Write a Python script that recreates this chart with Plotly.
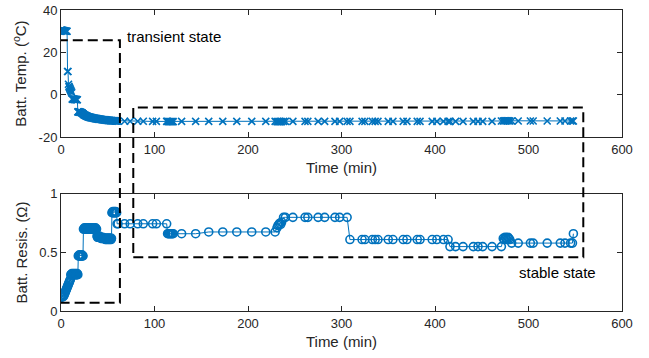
import plotly.graph_objects as go
from plotly.subplots import make_subplots

# ---- data ----
# transient part, sampled every half minute (0 .. 60 min)
early_time = [0, 0.5, 1, 1.5, 2, 2.5, 3, 3.5, 4, 4.5, 5, 5.5, 6, 6.5, 7, 7.5, 8, 8.5, 9, 9.5,
              10, 10.5, 11, 11.5, 12, 12.5, 13, 13.5, 14, 14.5, 15, 15.5, 16, 16.5, 17, 17.5, 18, 18.5, 19, 19.5,
              20, 20.5, 21, 21.5, 22, 22.5, 23, 23.5, 24, 24.5, 25, 25.5, 26, 26.5, 27, 27.5, 28, 28.5, 29, 29.5,
              30, 30.5, 31, 31.5, 32, 32.5, 33, 33.5, 34, 34.5, 35, 35.5, 36, 36.5, 37, 37.5, 38, 38.5, 39, 39.5,
              40, 40.5, 41, 41.5, 42, 42.5, 43, 43.5, 44, 44.5, 45, 45.5, 46, 46.5, 47, 47.5, 48, 48.5, 49, 49.5,
              50, 50.5, 51, 51.5, 52, 52.5, 53, 53.5, 54, 54.5, 55, 55.5, 56, 56.5, 57, 57.5, 58, 58.5, 59, 59.5,
              60]
early_temp = [30.5, 30.5, 30.4, 30.4, 30.3, 30.3, 30.2, 30.2, 30.1, 30.1, 30.0, 30.0, 30.0, 30.0, 11, 11, 5, 4, 3.5, 3,
              2.5, 2, 1.5, 1, -2, -2, -2, -2, -2.1, -2.1, -2.1, -2.2, -2.2, -2.2, -2.3, -2.3, -8, -8, -8, -8,
              -8.1, -8.1, -8.2, -8.3, -8.4, -8.5, -8.7, -8.9, -9.1, -9.3, -9.5, -9.6, -9.7, -9.8, -9.9, -10.0, -10.1, -10.2, -10.3, -10.4,
              -10.5, -10.5, -10.6, -10.6, -10.7, -10.7, -10.8, -10.8, -10.9, -10.9, -11.0, -11.0, -11.1, -11.1, -11.2, -11.2, -11.2, -11.3, -11.3, -11.3,
              -11.4, -11.4, -11.4, -11.5, -11.5, -11.5, -11.6, -11.6, -11.6, -11.7, -11.7, -11.7, -11.8, -11.8, -11.8, -11.8, -11.9, -11.9, -11.9, -11.9,
              -12.0, -12.0, -12.0, -12.0, -12.0, -12.1, -12.1, -12.1, -12.1, -12.1, -12.2, -12.2, -12.2, -12.2, -12.2, -12.2, -12.3, -12.3, -12.3, -12.3,
              -12.3]
early_resis = [0.12, 0.12, 0.12, 0.13, 0.12, 0.13, 0.13, 0.14, 0.15, 0.16, 0.17, 0.18, 0.19, 0.20, 0.21, 0.22, 0.23, 0.24, 0.25, 0.26,
               0.27, 0.31, 0.31, 0.32, 0.31, 0.31, 0.32, 0.31, 0.31, 0.32, 0.31, 0.31, 0.32, 0.31, 0.31, 0.32, 0.31, 0.47, 0.47, 0.48,
               0.47, 0.47, 0.48, 0.47, 0.47, 0.48, 0.47, 0.47, 0.70, 0.70, 0.71, 0.70, 0.70, 0.71, 0.70, 0.70, 0.71, 0.70, 0.70, 0.71,
               0.70, 0.70, 0.71, 0.70, 0.70, 0.71, 0.70, 0.70, 0.71, 0.70, 0.70, 0.71, 0.70, 0.70, 0.71, 0.70, 0.70, 0.64, 0.63, 0.64,
               0.63, 0.63, 0.64, 0.63, 0.63, 0.62, 0.63, 0.62, 0.62, 0.63, 0.62, 0.62, 0.62, 0.62, 0.62, 0.61, 0.62, 0.62, 0.61, 0.62,
               0.62, 0.61, 0.62, 0.62, 0.61, 0.62, 0.62, 0.61, 0.62, 0.84, 0.84, 0.85, 0.84, 0.84, 0.85, 0.84, 0.84, 0.85, 0.84, 0.84,
               0.745]

# stable part
late_time = [61, 68, 74, 82, 88, 98, 102, 113, 114, 115, 116, 117, 118, 119, 120,
             129, 144, 158, 173, 188, 204, 219, 229, 231, 232, 233, 234, 235, 236, 238,
             240, 248, 261, 264, 275, 282, 293, 298, 306, 309, 322, 325, 333, 336, 339,
             350, 355, 366, 370, 381, 384, 397, 402, 409, 414, 416, 422, 430, 441, 446,
             451, 461, 471, 473, 474, 475, 476, 477, 478, 479, 480, 482, 489, 502, 505,
             520, 534, 539, 545, 547, 548]
late_temp = [-12.4, -12.4, -12.4, -12.4, -12.4, -12.5, -12.5, -12.5, -12.5, -12.6, -12.6, -12.6, -12.6, -12.6, -12.6,
             -12.5, -12.5, -12.5, -12.5, -12.5, -12.5, -12.5, -12.5, -12.6, -12.6, -12.6, -12.6, -12.6, -12.6, -12.5,
             -12.5, -12.5, -12.5, -12.5, -12.5, -12.5, -12.5, -12.5, -12.5, -12.5, -12.5, -12.5, -12.5, -12.5, -12.5,
             -12.5, -12.5, -12.5, -12.5, -12.5, -12.5, -12.5, -12.5, -12.5, -12.5, -12.5, -12.5, -12.5, -12.5, -12.5,
             -12.5, -12.5, -12.3, -12.3, -12.2, -12.2, -12.2, -12.2, -12.2, -12.2, -12.3, -12.3, -12.3, -12.3, -12.3,
             -12.3, -12.3, -12.3, -12.3, -12.3, -12.3]
late_resis = [0.745, 0.745, 0.745, 0.745, 0.745, 0.745, 0.745, 0.745, 0.66, 0.66, 0.66, 0.66, 0.66, 0.66, 0.66,
              0.66, 0.66, 0.675, 0.675, 0.675, 0.675, 0.675, 0.675, 0.71, 0.73, 0.74, 0.75, 0.74, 0.76, 0.80,
              0.80, 0.80, 0.80, 0.80, 0.80, 0.80, 0.80, 0.80, 0.80, 0.61, 0.61, 0.61, 0.61, 0.61, 0.61,
              0.61, 0.61, 0.61, 0.61, 0.61, 0.61, 0.61, 0.61, 0.61, 0.61, 0.55, 0.55, 0.55, 0.55, 0.55,
              0.55, 0.55, 0.55, 0.62, 0.61, 0.63, 0.62, 0.61, 0.63, 0.62, 0.61, 0.58, 0.58, 0.58, 0.58,
              0.58, 0.58, 0.58, 0.58, 0.58, 0.66]

x_ticks = [0, 100, 200, 300, 400, 500, 600]
temp_ticks = [-20, 0, 20, 40]
resis_ticks = [0, 0.5, 1]
resis_tick_text = ["0", "0.5", "1"]

# dashed regions: (t0, t1, temp_top, resis_bottom)
transient_box = (-1.5, 63, 25.8, 0.071)
stable_box = (77.3, 558.6, -6.0, 0.46)

time_min = early_time + late_time
temp_c = early_temp + late_temp
resis_ohm = early_resis + late_resis

BLUE = "#0072BD"
AX = "#262626"
FONT = "Liberation Sans, Arial, Helvetica, sans-serif"

top_dom = [0.577, 1.0]
bot_dom = [0.0, 0.389]
temp_rng = [-20, 40]
res_rng = [0, 1]


def temp_to_paper(v):
    return top_dom[0] + (v - temp_rng[0]) / (temp_rng[1] - temp_rng[0]) * (top_dom[1] - top_dom[0])


def res_to_paper(v):
    return bot_dom[0] + (v - res_rng[0]) / (res_rng[1] - res_rng[0]) * (bot_dom[1] - bot_dom[0])


fig = make_subplots(rows=2, cols=1)

fig.add_trace(go.Scatter(
    x=time_min, y=temp_c, mode="lines+markers",
    line=dict(color=BLUE, width=1),
    marker=dict(symbol="x-thin", size=7, color=BLUE, line=dict(color=BLUE, width=1.6)),
    showlegend=False), row=1, col=1)

fig.add_trace(go.Scatter(
    x=time_min, y=resis_ohm, mode="lines+markers",
    line=dict(color=BLUE, width=1),
    marker=dict(symbol="circle-open", size=8, color=BLUE, line=dict(color=BLUE, width=1.6)),
    showlegend=False), row=2, col=1)

axis_common = dict(showline=True, linecolor=AX, linewidth=1, mirror="ticks",
                   ticks="inside", ticklen=5, tickcolor=AX, tickwidth=1,
                   showgrid=False, zeroline=False,
                   tickfont=dict(family=FONT, size=13, color=AX),
                   title_font=dict(family=FONT, size=15, color=AX, weight="normal"))

fig.update_xaxes(range=[0, 600], tickvals=x_ticks, ticktext=[str(v) for v in x_ticks],
                 title_text="Time (min)", title_standoff=6, **axis_common)
fig.update_yaxes(**axis_common)
fig.update_yaxes(range=temp_rng, tickvals=temp_ticks, ticktext=[str(v) for v in temp_ticks],
                 title_text="Batt. Temp. (<sup>o</sup>C)", title_standoff=8, domain=top_dom, row=1, col=1)
fig.update_yaxes(range=res_rng, tickvals=resis_ticks, ticktext=resis_tick_text,
                 title_text="Batt. Resis. (Ω)", title_standoff=8, domain=bot_dom, row=2, col=1)

for (t0, t1, ytop, ybot) in [transient_box, stable_box]:
    fig.add_shape(type="rect", xref="x", yref="paper",
                  x0=t0, x1=t1, y0=res_to_paper(ybot), y1=temp_to_paper(ytop),
                  line=dict(color="black", width=2, dash="10px,5px"),
                  fillcolor="rgba(0,0,0,0)", layer="above")

fig.add_annotation(x=68, y=27.3, xref="x", yref="y", text="transient state",
                   showarrow=False, xanchor="left", yanchor="middle",
                   font=dict(family=FONT, size=15, color="black"))
fig.add_annotation(x=488, y=0.33, xref="x2", yref="y2", text="stable state",
                   showarrow=False, xanchor="left", yanchor="middle",
                   font=dict(family=FONT, size=15, color="black"))

fig.update_layout(width=649, height=358,
                  margin=dict(l=61, r=27, t=10, b=47, autoexpand=False),
                  paper_bgcolor="white", plot_bgcolor="white",
                  font=dict(family=FONT, color=AX))

fig.write_html("out.html", config={"displayModeBar": False},
               post_script="document.body.style.margin='0';")
